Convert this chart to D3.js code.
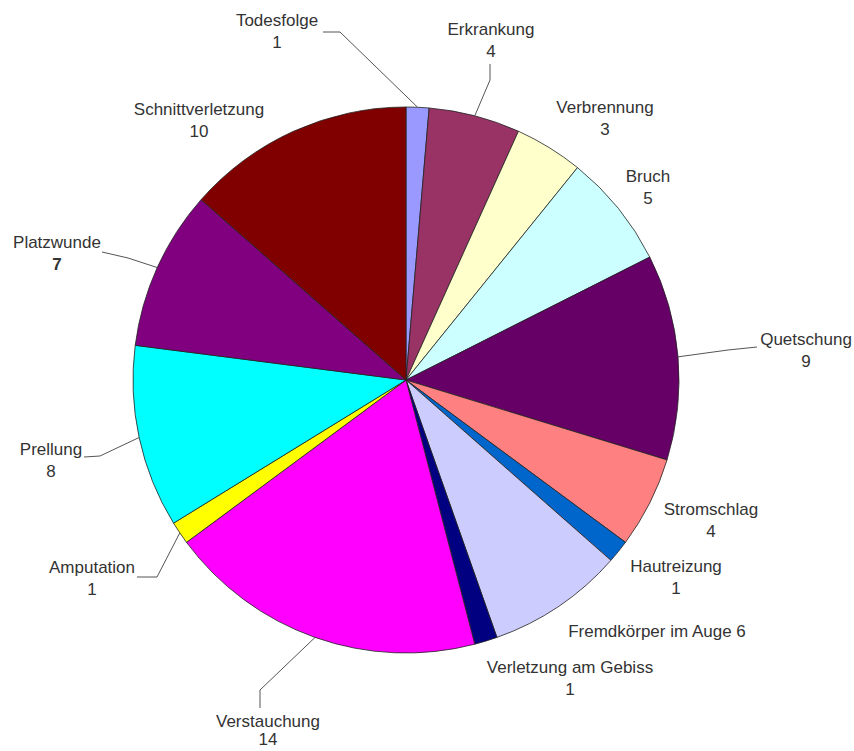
<!DOCTYPE html>
<html>
<head>
<meta charset="utf-8">
<script src="https://cdn.jsdelivr.net/npm/d3@7"></script>
<style>
  body { margin: 0; background: #fff; }
</style>
</head>
<body>
<script>
const categories = [
  'Todesfolge', 'Erkrankung', 'Verbrennung', 'Bruch', 'Quetschung', 'Stromschlag',
  'Hautreizung', 'Fremdkörper im Auge', 'Verletzung am Gebiss', 'Verstauchung',
  'Amputation', 'Prellung', 'Platzwunde', 'Schnittverletzung'
]
const values = [1, 4, 3, 5, 9, 4, 1, 6, 1, 14, 1, 8, 7, 10]
const colors = [
  '#9999ff', '#993366', '#ffffcc', '#ccffff', '#660066', '#ff8080',
  '#0066cc', '#ccccff', '#000080', '#ff00ff', '#ffff00', '#00ffff',
  '#800080', '#800000'
]

const width = 854
const height = 751
const cx = 406
const cy = 380
const radius = 273

// where each label sits (centre x, first baseline) and, if any, the leader line start + elbow
const labelLayout = {
  'Todesfolge': { x: 277, y: 26, leader: [[323, 32], [340, 32]] },
  'Erkrankung': { x: 491, y: 35, leader: [[490, 64], [490, 80]] },
  'Verbrennung': { x: 605, y: 113 },
  'Bruch': { x: 648, y: 182 },
  'Quetschung': { x: 806, y: 345, leader: [[757, 347], [728, 350]] },
  'Stromschlag': { x: 711, y: 515 },
  'Hautreizung': { x: 676, y: 572 },
  'Fremdkörper im Auge': { x: 657, y: 637, inline: true },
  'Verletzung am Gebiss': { x: 570, y: 673 },
  'Verstauchung': { x: 268, y: 727, gap: 18, leader: [[260, 708], [260, 690]] },
  'Amputation': { x: 92, y: 573, leader: [[137, 577], [157, 577]] },
  'Prellung': { x: 51, y: 455, leader: [[84, 457], [100, 456]] },
  'Platzwunde': { x: 57, y: 248, leader: [[102, 252], [128, 258]], bold: true },
  'Schnittverletzung': { x: 199, y: 115 }
}

const data = categories.map((name, i) => ({ name, value: values[i], color: colors[i] }))

const pie = d3.pie().sort(null).value((d) => d.value)
const arc = d3.arc().innerRadius(0).outerRadius(radius)
const edge = d3.arc().innerRadius(radius).outerRadius(radius)
const arcs = pie(data)

const svg = d3.select('body').append('svg')
  .attr('width', width)
  .attr('height', height)
  .attr('viewBox', [0, 0, width, height])

const g = svg.append('g').attr('transform', `translate(${cx},${cy})`)

g.selectAll('path')
  .data(arcs)
  .join('path')
  .attr('d', arc)
  .attr('fill', (d) => d.data.color)
  .attr('stroke', '#222')
  .attr('stroke-width', 0.8)

// leader lines
const line = d3.line()
svg.append('g')
  .attr('fill', 'none')
  .attr('stroke', '#555')
  .attr('stroke-width', 1)
  .selectAll('path')
  .data(arcs.filter((d) => labelLayout[d.data.name].leader))
  .join('path')
  .attr('d', (d) => {
    const [ex, ey] = edge.centroid(d)
    return line([...labelLayout[d.data.name].leader, [cx + ex, cy + ey]])
  })

// labels
const labels = svg.append('g')
  .attr('font-family', 'Arial, "Liberation Sans", sans-serif')
  .attr('font-size', 17)
  .attr('fill', '#333')
  .attr('text-anchor', 'middle')
  .selectAll('text')
  .data(data)
  .join('text')
  .attr('x', (d) => labelLayout[d.name].x)
  .attr('y', (d) => labelLayout[d.name].y)

labels.each(function(d) {
  const lay = labelLayout[d.name]
  const t = d3.select(this)
  if (lay.inline) {
    t.text(`${d.name} ${d.value}`)
    return
  }
  t.append('tspan').attr('x', lay.x).text(d.name)
  t.append('tspan')
    .attr('x', lay.x)
    .attr('dy', lay.gap || 22)
    .attr('font-weight', lay.bold ? 'bold' : null)
    .text(d.value)
})
</script>
</body>
</html>
